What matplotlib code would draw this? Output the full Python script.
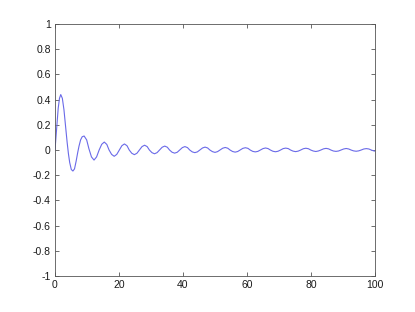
import matplotlib
matplotlib.use("Agg")
import matplotlib.pyplot as plt

# values (damped oscillation)
x_vals = [0.0, 0.5, 1.0, 1.4, 1.8, 2.3, 2.8, 3.3, 3.8, 4.2, 4.6, 5.1, 5.6, 6.1, 6.6, 7.1,
          7.5, 8.0, 8.5, 9.1, 9.9, 10.6, 11.4, 12.2, 13.0, 13.8, 14.6, 15.4, 16.2, 16.9,
          17.7, 18.5, 19.3, 20.1, 20.9, 21.7, 22.5, 23.2, 24.0, 24.8, 25.6, 26.4, 27.2,
          28.0, 28.8, 29.5, 30.3, 31.1, 31.9, 32.7, 33.5, 34.3, 35.1, 35.8, 36.6, 37.4,
          38.2, 39.0, 39.8, 40.6, 41.4, 42.1, 42.9, 43.7, 44.5, 45.3, 46.1, 46.9, 47.7,
          48.4, 49.2, 50.0, 50.8, 51.6, 52.4, 53.2, 54.0, 54.7, 55.5, 56.3, 57.1, 57.9,
          58.7, 59.5, 60.3, 61.0, 61.8, 62.6, 63.4, 64.2, 65.0, 65.8, 66.6, 67.3, 68.1,
          68.9, 69.7, 70.5, 71.3, 72.1, 72.9, 73.6, 74.4, 75.2, 76.0, 76.8, 77.6, 78.4,
          79.2, 79.9, 80.7, 81.5, 82.3, 83.1, 83.9, 84.7, 85.5, 86.2, 87.0, 87.8, 88.6,
          89.4, 90.2, 91.0, 91.8, 92.5, 93.3, 94.1, 94.9, 95.7, 96.5, 97.3, 98.1, 98.8,
          99.6, 100.0]
y_vals = [0.00, 0.17, 0.33, 0.41, 0.44, 0.41, 0.32, 0.19, 0.06, -0.03, -0.10, -0.155,
          -0.167, -0.15, -0.09, -0.02, 0.03, 0.08, 0.105, 0.111, 0.08, 0.01, -0.055,
          -0.080, -0.055, 0.00, 0.045, 0.063, 0.044, 0.00, -0.035, -0.050, -0.035, 0.00,
          0.034, 0.048, 0.034, 0.00, -0.026, -0.037, -0.026, 0.00, 0.027, 0.038, 0.027,
          0.00, -0.021, -0.030, -0.021, 0.00, 0.022, 0.031, 0.022, 0.00, -0.018, -0.025,
          -0.018, 0.00, 0.019, 0.027, 0.019, 0.00, -0.015, -0.021, -0.015, 0.00, 0.016,
          0.023, 0.016, 0.00, -0.013, -0.019, -0.013, 0.00, 0.014, 0.020, 0.014, 0.00,
          -0.012, -0.017, -0.012, 0.00, 0.013, 0.018, 0.013, 0.00, -0.011, -0.015,
          -0.011, 0.00, 0.011, 0.016, 0.011, 0.00, -0.010, -0.014, -0.010, 0.00, 0.011,
          0.015, 0.011, 0.00, -0.009, -0.013, -0.009, 0.00, 0.010, 0.014, 0.010, 0.00,
          -0.008, -0.012, -0.008, 0.00, 0.009, 0.013, 0.009, 0.00, -0.008, -0.011,
          -0.008, 0.00, 0.008, 0.012, 0.008, 0.00, -0.007, -0.010, -0.007, 0.00, 0.008,
          0.011, 0.008, 0.00, -0.007, -0.009]

x_ticks = [0, 20, 40, 60, 80, 100]
y_ticks = [-1, -0.8, -0.6, -0.4, -0.2, 0, 0.2, 0.4, 0.6, 0.8, 1]
y_labels = ["-1", "-0.8", "-0.6", "-0.4", "-0.2", "0", "0.2", "0.4", "0.6", "0.8", "1"]

plt.rcParams['font.family'] = ['Liberation Sans', 'DejaVu Sans']

fig = plt.figure(figsize=(4.15, 3.12), dpi=100)
ax = fig.add_axes([0.1325, 0.1154, 0.7711, 0.8077])
ax.plot(x_vals, y_vals, color='#6a6ae8', linewidth=0.8)

ax.set_xlim(0, 100)
ax.set_ylim(-1, 1)
ax.set_xticks(x_ticks)
ax.set_yticks(y_ticks)
ax.set_yticklabels(y_labels)
ax.tick_params(direction='in', length=3, width=0.6, labelsize=7.5, colors='#555555',
               labelcolor='#1a1a1a', top=True, right=True, pad=3)
for s in ax.spines.values():
    s.set_linewidth(0.6)
    s.set_color('#555555')

fig.savefig('out.png', dpi=100)
